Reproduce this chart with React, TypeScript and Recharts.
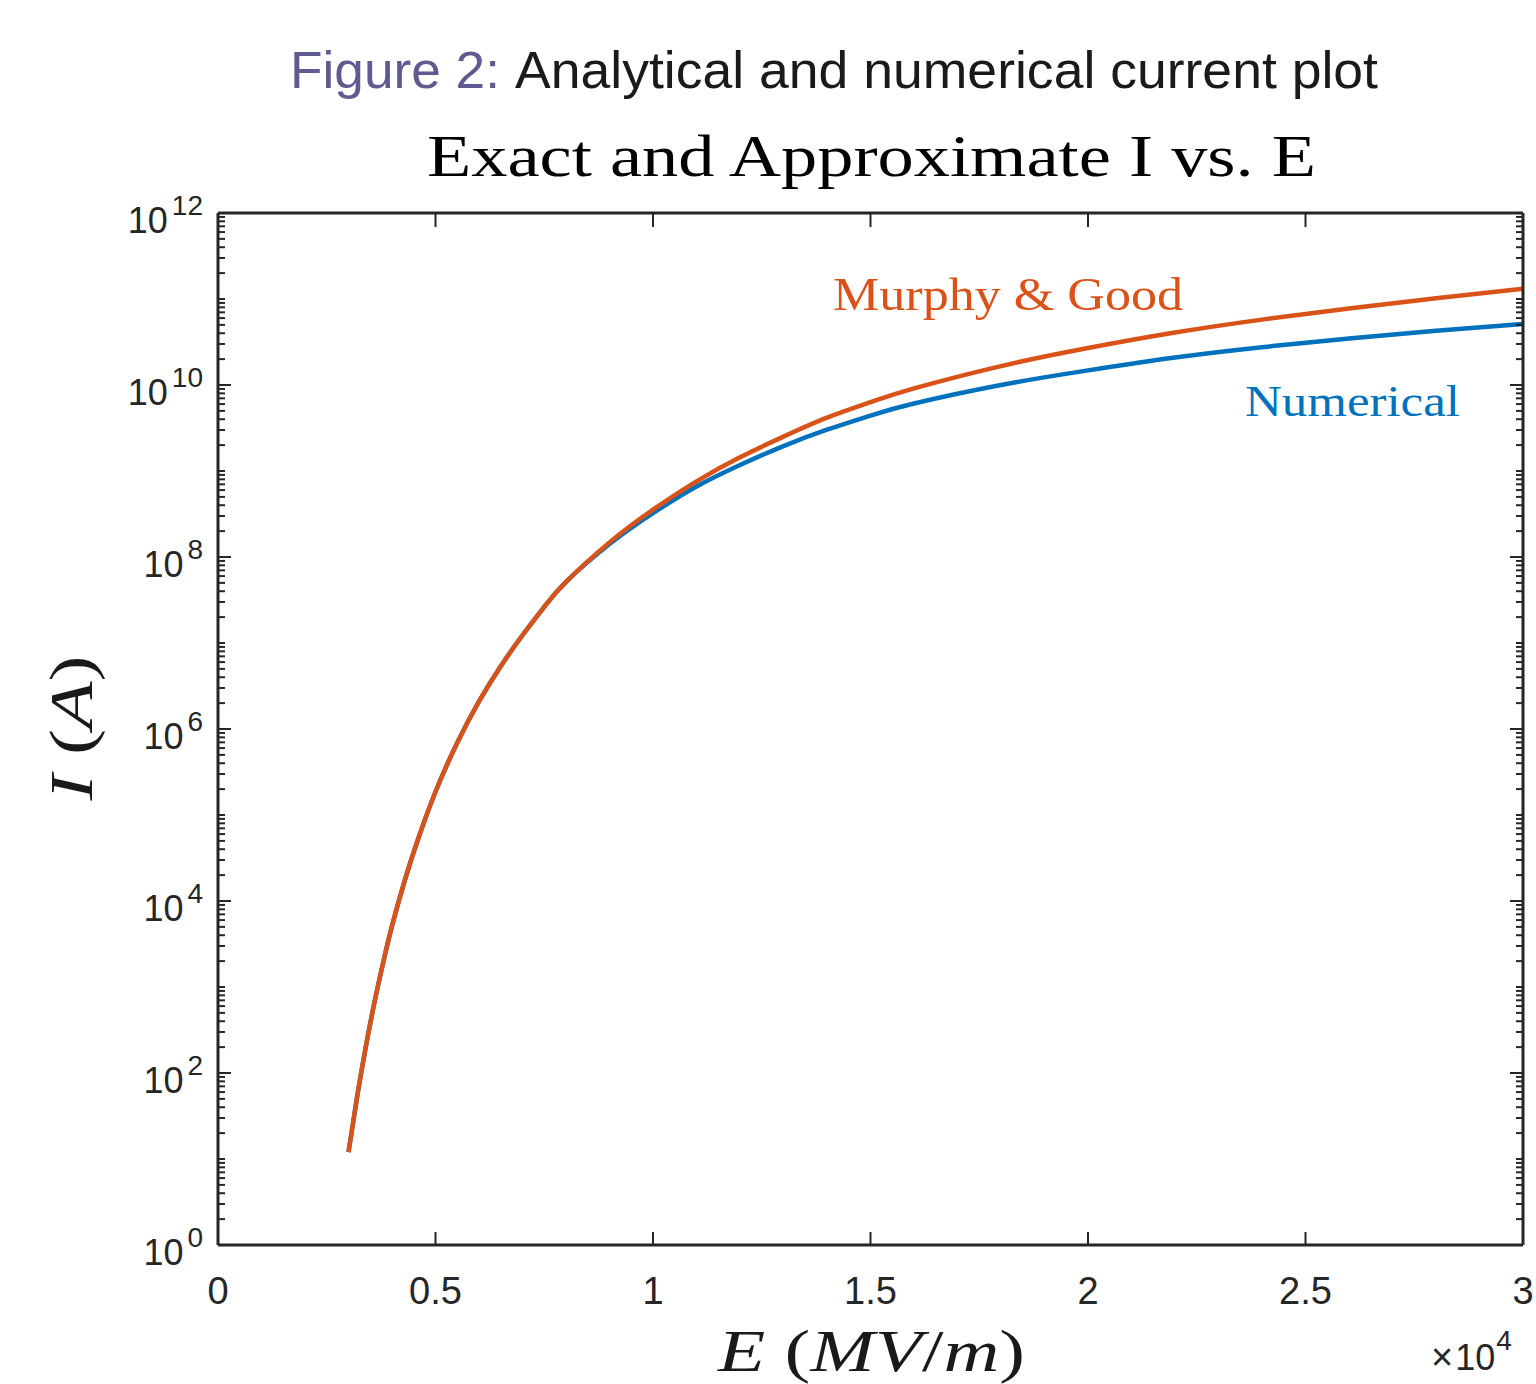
import React from 'react';
import { LineChart, Line, XAxis, YAxis } from 'recharts';

// Electric field E (MV/m)
const E_VALUES = [3000, 3200, 3400, 3600, 3800, 4000, 4300, 4600, 5000, 5500, 6000, 6500, 7000, 7500, 8000, 9000, 10000, 11000, 12000, 13000, 14000, 15000, 16000, 18000, 20000, 22000, 24000, 26000, 28000, 30000];
// Murphy & Good current I (A)
const MURPHY_GOOD = [12.02, 53.7, 204.2, 676.1, 1950, 5129, 17780, 52480, 1.862e5, 6.918e5, 2.089e6, 5.37e6, 1.23e7, 2.63e7, 5.129e7, 1.479e8, 3.548e8, 7.586e8, 1.445e9, 2.512e9, 4.169e9, 6.31e9, 9.12e9, 1.66e10, 2.692e10, 4.074e10, 5.754e10, 7.762e10, 1.023e11, 1.318e11];
// Numerical current I (A)
const NUMERICAL = [12.02, 53.7, 204.2, 676.1, 1950, 5129, 17780, 52480, 1.862e5, 6.918e5, 2.089e6, 5.37e6, 1.23e7, 2.63e7, 5.129e7, 1.413e8, 3.236e8, 6.607e8, 1.175e9, 1.95e9, 3.02e9, 4.416e9, 6.095e9, 1.0e10, 1.479e10, 2.089e10, 2.754e10, 3.467e10, 4.266e10, 5.129e10];

const X_TICKS = [0, 5000, 10000, 15000, 20000, 25000, 30000];
const X_TICK_LABELS = ['0', '0.5', '1', '1.5', '2', '2.5', '3'];
const Y_MAJOR_EXPONENTS = [0, 2, 4, 6, 8, 10, 12];

const Y_TICKS: number[] = [];
for (let k = 0; k < 12; k++) {
  for (let m = 1; m <= 9; m++) Y_TICKS.push(m * Math.pow(10, k));
}
Y_TICKS.push(1e12);

const data = E_VALUES.map((E, i) => ({ E, mg: MURPHY_GOOD[i], num: NUMERICAL[i] }));

const AX = '#262626';
const SANS = '"Liberation Sans", Arial, Helvetica, sans-serif';
const SERIF = '"Liberation Serif", "Times New Roman", serif';

const majorExp = (v: number) => {
  const e = Math.log10(v);
  const r = Math.round(e);
  if (Math.abs(e - r) < 1e-9 && Y_MAJOR_EXPONENTS.includes(r)) return r;
  return null;
};

const LeftTick = (props: any) => {
  const { x, y, payload } = props;
  const exp = majorExp(payload.value);
  const major = exp !== null;
  return (
    <g>
      <line x1={x} x2={x + (major ? 13 : 7)} y1={y} y2={y} stroke={AX} strokeWidth={2} />
      {major && (
        <text x={x - 15} y={y + 20} textAnchor="end" fill={AX} fontFamily={SANS} fontSize={36}>
          10<tspan dx={4} dy={-18} fontSize={28}>{exp}</tspan>
        </text>
      )}
    </g>
  );
};

const RightTick = (props: any) => {
  const { x, y, payload } = props;
  const major = majorExp(payload.value) !== null;
  return <line x1={x} x2={x - (major ? 13 : 7)} y1={y} y2={y} stroke={AX} strokeWidth={2} />;
};

const BottomTick = (props: any) => {
  const { x, y, payload, index } = props;
  const i = X_TICKS.indexOf(payload.value);
  return (
    <g>
      <line x1={x} x2={x} y1={y} y2={y - 13} stroke={AX} strokeWidth={2} />
      <text x={x} y={y + 59} textAnchor="middle" fill={AX} fontFamily={SANS} fontSize={38}>
        {i >= 0 ? X_TICK_LABELS[i] : X_TICK_LABELS[index]}
      </text>
    </g>
  );
};

const TopTick = (props: any) => {
  const { x, y } = props;
  return <line x1={x} x2={x} y1={y} y2={y + 14} stroke={AX} strokeWidth={2} />;
};

export default function App() {
  return (
    <div style={{ position: 'absolute', left: 0, top: 0, width: 1536, height: 1384, background: '#fff' }}>
      <LineChart
        width={1536}
        height={1384}
        data={data}
        margin={{ top: 212, right: 12, bottom: 138, left: 217 }}
      >
        <XAxis
          xAxisId="b"
          orientation="bottom"
          type="number"
          dataKey="E"
          domain={[0, 30000]}
          ticks={X_TICKS}
          interval={0}
          allowDataOverflow
          height={1}
          tickSize={0}
          tickMargin={0}
          tickLine={false}
          tick={<BottomTick />}
          axisLine={{ stroke: AX, strokeWidth: 3 }}
        />
        <XAxis
          xAxisId="t"
          orientation="top"
          type="number"
          dataKey="E"
          domain={[0, 30000]}
          ticks={X_TICKS}
          interval={0}
          allowDataOverflow
          height={1}
          tickSize={0}
          tickMargin={0}
          tickLine={false}
          tick={<TopTick />}
          axisLine={{ stroke: AX, strokeWidth: 3 }}
        />
        <YAxis
          yAxisId="l"
          orientation="left"
          type="number"
          scale="log"
          dataKey="mg"
          domain={[1, 1e12]}
          ticks={Y_TICKS}
          interval={0}
          allowDataOverflow
          width={1}
          tickSize={0}
          tickMargin={0}
          tickLine={false}
          tick={<LeftTick />}
          axisLine={{ stroke: AX, strokeWidth: 3 }}
        />
        <YAxis
          yAxisId="r"
          orientation="right"
          type="number"
          scale="log"
          dataKey="mg"
          domain={[1, 1e12]}
          ticks={Y_TICKS}
          interval={0}
          allowDataOverflow
          width={1}
          tickSize={0}
          tickMargin={0}
          tickLine={false}
          tick={<RightTick />}
          axisLine={{ stroke: AX, strokeWidth: 3 }}
        />
        <Line
          xAxisId="b"
          yAxisId="l"
          type="natural"
          dataKey="num"
          stroke="#0072BD"
          strokeWidth={4.5}
          dot={false}
          isAnimationActive={false}
        />
        <Line
          xAxisId="b"
          yAxisId="l"
          type="natural"
          dataKey="mg"
          stroke="#D95319"
          strokeWidth={4.5}
          dot={false}
          isAnimationActive={false}
        />
      </LineChart>
      <svg
        width={1536}
        height={1384}
        style={{ position: 'absolute', left: 0, top: 0, pointerEvents: 'none' }}
      >
        <text x={290} y={88} fontFamily={SANS} fontSize={52} fill="#5d5b8f" textLength={210} lengthAdjust="spacingAndGlyphs">
          Figure 2:
        </text>
        <text x={515} y={88} fontFamily={SANS} fontSize={52} fill="#1a1a1a" textLength={863} lengthAdjust="spacingAndGlyphs">
          Analytical and numerical current plot
        </text>
        <text x={427} y={176} fontFamily={SERIF} fontSize={60} fill="#000" textLength={889} lengthAdjust="spacingAndGlyphs">
          Exact and Approximate I vs. E
        </text>
        <text x={833} y={310} fontFamily={SERIF} fontSize={46} fill="#D95319" textLength={350} lengthAdjust="spacingAndGlyphs">
          Murphy &amp; Good
        </text>
        <text x={1245} y={416} fontFamily={SERIF} fontSize={45} fill="#0072BD" textLength={215} lengthAdjust="spacingAndGlyphs">
          Numerical
        </text>
        <text x={718} y={1371} fontFamily={SERIF} fontSize={60} fill="#1a1a1a" textLength={307} lengthAdjust="spacingAndGlyphs">
          <tspan fontStyle="italic">E</tspan> (<tspan fontStyle="italic">MV</tspan>/<tspan fontStyle="italic">m</tspan>)
        </text>
        <text
          transform="translate(92,728) rotate(-90)"
          textAnchor="middle"
          fontFamily={SERIF}
          fontSize={62}
          fill="#1a1a1a"
          textLength={145}
          lengthAdjust="spacingAndGlyphs"
        >
          <tspan fontStyle="italic">I</tspan> (<tspan fontStyle="italic">A</tspan>)
        </text>
        <text x={1431} y={1370} fontFamily={SANS} fontSize={36} fill={AX}>
          <tspan fontSize={38}>×</tspan><tspan dx={2}>10</tspan><tspan dx={1} dy={-20} fontSize={28}>4</tspan>
        </text>
      </svg>
    </div>
  );
}
